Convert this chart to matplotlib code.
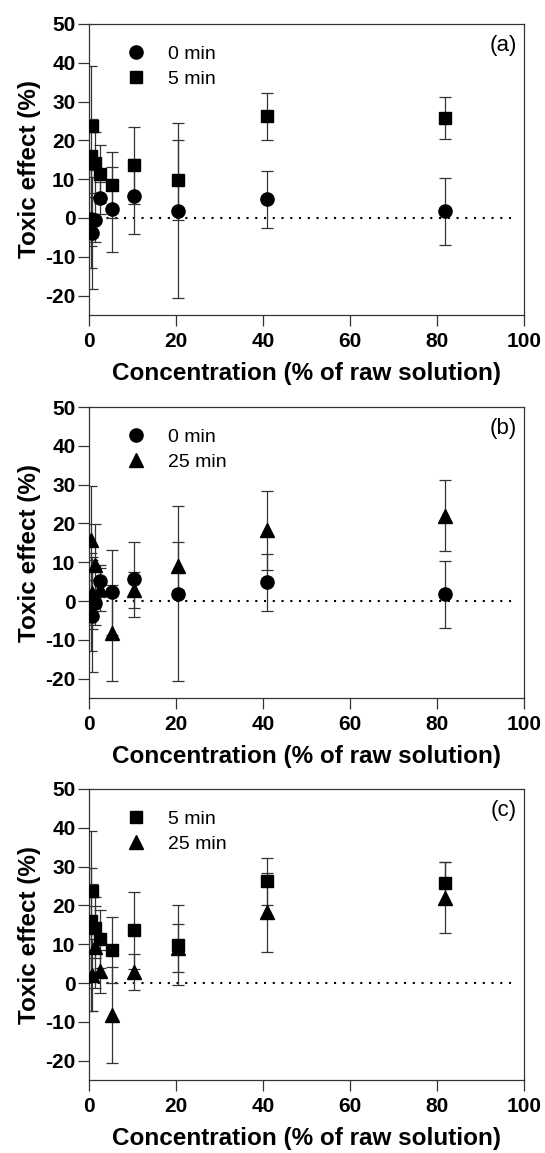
import numpy as np
import matplotlib.pyplot as plt

plt.rcParams['font.family'] = ['Liberation Sans', 'DejaVu Sans']
plt.rcParams['axes.unicode_minus'] = False

# concentration (% of raw solution)
conc = [0.32, 0.64, 1.28, 2.56, 5.12, 10.24, 20.48, 40.96, 81.92]

# toxic effect (%) and error (+/-) for each contact time
min0 = [-0.3, -3.9, -0.4, 5.2, 2.2, 5.6, 1.9, 4.8, 1.7]
min0_err = [12.6, 14.4, 5.7, 4.1, 11.0, 9.6, 22.6, 7.3, 8.7]

min5 = [16.0, 23.8, 14.3, 11.3, 8.5, 13.6, 9.8, 26.2, 25.8]
min5_err = [23.3, 1.6, 7.9, 7.5, 8.6, 9.9, 10.2, 6.1, 5.5]

min25 = [15.7, 2.1, 9.3, 3.0, -8.2, 2.9, 9.0, 18.2, 22.0]
min25_err = [14.0, 9.2, 10.6, 5.6, 12.3, 4.6, 6.1, 10.1, 9.1]

series = {
    '0 min': (min0, min0_err, 'o', 9.5),
    '5 min': (min5, min5_err, 's', 9),
    '25 min': (min25, min25_err, '^', 9.5),
}

panels = [('(a)', ['0 min', '5 min']),
          ('(b)', ['0 min', '25 min']),
          ('(c)', ['5 min', '25 min'])]

fig = plt.figure(figsize=(5.45, 11.53), dpi=100)
bottoms = [0.7268, 0.3946, 0.0633]

for (tag, names), b in zip(panels, bottoms):
    ax = fig.add_axes([0.164, b, 0.797, 0.2524])
    ax.axhline(0, xmax=0.985, color='k', lw=1.5, ls=(0, (1, 3.2)), zorder=1)
    for name in names:
        y, e, m, ms = series[name]
        ax.errorbar(conc, y, yerr=e, fmt='none', ecolor='#333333',
                    elinewidth=0.9, capsize=4.3, capthick=0.9, zorder=2)
    for name in names:
        y, e, m, ms = series[name]
        ax.plot(conc, y, m, color='k', ms=ms, ls='none', label=name, zorder=3)

    ax.set_xlim(0, 100)
    ax.set_ylim(-25, 50)
    ax.set_xticks(np.arange(0, 101, 20))
    ax.set_yticks(np.arange(-20, 51, 10))
    ax.tick_params(direction='out', length=8, width=0.9, color='#333333',
                   labelsize=15)
    ax.tick_params(axis='x', pad=4)
    ax.tick_params(axis='y', pad=2)
    for lab in ax.get_xticklabels() + ax.get_yticklabels():
        lab.set_fontweight('bold')
    for sp in ax.spines.values():
        sp.set_linewidth(0.9)
        sp.set_color('#333333')

    ax.set_xlabel('Concentration (% of raw solution)', fontsize=17.5,
                  fontweight='bold', labelpad=8)
    ax.set_ylabel('Toxic effect (%)', fontsize=17.5, fontweight='bold',
                  labelpad=3)
    ax.text(0.984, 0.925, tag, transform=ax.transAxes, ha='right',
            va='center', fontsize=16)
    ax.legend(loc='upper left', bbox_to_anchor=(0.085, 0.926), frameon=False,
              fontsize=14, handlelength=1, handletextpad=1.15,
              borderpad=0, borderaxespad=0, labelspacing=0.35)

plt.savefig('out.png', dpi=100)
